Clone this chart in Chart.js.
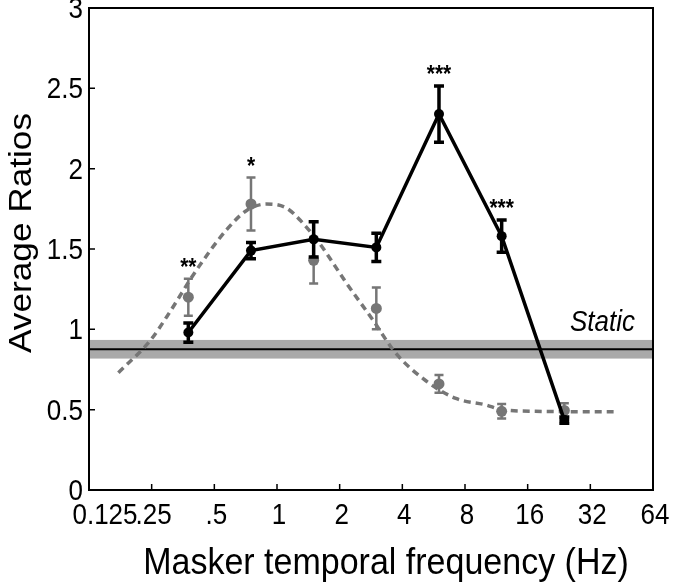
<!DOCTYPE html>
<html>
<head>
<meta charset="utf-8">
<script src="https://cdn.jsdelivr.net/npm/chart.js@4.4.1/dist/chart.umd.min.js"></script>
<style>
  html, body { margin: 0; padding: 0; background: #fff; }
  canvas { display: block; }
</style>
</head>
<body>
<canvas id="grafico" width="675" height="587"></canvas>
<script>
// frequências dos maskers (Hz)
const freqs = [0.375, 0.75, 1.5, 3, 6, 12, 24];

// série preta (linha cheia)
const blackMean = [0.98, 1.49, 1.56, 1.51, 2.34, 1.58, 0.435];
const blackErr  = [0.06, 0.05, 0.11, 0.088, 0.175, 0.10, 0.02];

// série cinza (pontos)
const grayMean = [1.20, 1.78, 1.43, 1.13, 0.66, 0.49, 0.495];
const grayErr  = [0.115, 0.165, 0.145, 0.13, 0.055, 0.045, 0.045];

// asteriscos de significância
const stars = ['**', '*', '', '', '***', '***', ''];

// curva ajustada cinza tracejada
const fitX = [0.173, 0.246, 0.296, 0.411, 0.573, 0.715, 0.89, 1.11, 1.29, 1.6, 2.15, 2.88, 3.73, 5.19, 7.23, 10.06, 12, 17.4, 41.4];
const fitY = [0.73, 0.93, 1.08, 1.37, 1.62, 1.74, 1.78, 1.755, 1.68, 1.535, 1.29, 1.06, 0.85, 0.68, 0.57, 0.53, 0.50, 0.49, 0.487];

// condição estática
const staticMean = 0.876;
const staticErr = 0.058;

// eixos
const xTicks = [0.125, 0.25, 0.5, 1, 2, 4, 8, 16, 32, 64];
const xTickLabels = ['0.125', '.25', '.5', '1', '2', '4', '8', '16', '32', '64'];
const yTicks = [0, 0.5, 1, 1.5, 2, 2.5, 3];
const yTickLabels = ['0', '0.5', '1', '1.5', '2', '2.5', '3'];

const GRAY = '#767676';
const FONT = '"Liberation Sans", Arial, Helvetica, sans-serif';

function texto(ctx, s, x, y, font, align, sx, sy, rot) {
    ctx.save();
    ctx.translate(x, y);
    if (rot) ctx.rotate(rot);
    ctx.scale(sx, sy);
    ctx.font = font;
    ctx.textAlign = align;
    ctx.textBaseline = 'alphabetic';
    ctx.fillStyle = '#000';
    ctx.fillText(s, 0, 0);
    ctx.restore();
}

function barrasErro(ctx, xs, ys, errs, xScale, yScale, cor, lw, cap) {
    ctx.save();
    ctx.strokeStyle = cor;
    ctx.lineWidth = lw;
    ctx.lineCap = 'butt';
    for (let i = 0; i < xs.length; i++) {
        const px = xScale.getPixelForValue(xs[i]);
        const top = yScale.getPixelForValue(ys[i] + errs[i]);
        const bot = yScale.getPixelForValue(ys[i] - errs[i]);
        ctx.beginPath();
        ctx.moveTo(px, top); ctx.lineTo(px, bot);
        ctx.moveTo(px - cap, top); ctx.lineTo(px + cap, top);
        ctx.moveTo(px - cap, bot); ctx.lineTo(px + cap, bot);
        ctx.stroke();
    }
    ctx.restore();
}

// plugin: faixa estática, eixos, barras de erro e textos
const pluginFigura = {
    id: 'figura',
    beforeDatasetsDraw(chart) {
        const { ctx, chartArea: a, scales: { y } } = chart;
        ctx.save();
        ctx.fillStyle = '#a9a9a9';
        const t = y.getPixelForValue(staticMean + staticErr);
        const b = y.getPixelForValue(staticMean - staticErr);
        ctx.fillRect(a.left, t, a.right - a.left, b - t);
        ctx.strokeStyle = '#000';
        ctx.lineWidth = 2;
        ctx.beginPath();
        const m = y.getPixelForValue(staticMean);
        ctx.moveTo(a.left, m); ctx.lineTo(a.right, m);
        ctx.stroke();
        ctx.restore();
    },
    beforeDatasetDraw(chart, args) {
        const { ctx, scales: { x, y } } = chart;
        if (args.index === 1) barrasErro(ctx, freqs, grayMean, grayErr, x, y, GRAY, 2.5, 4.5);
        if (args.index === 0) barrasErro(ctx, freqs, blackMean, blackErr, x, y, '#000', 3.5, 5);
    },
    afterDatasetsDraw(chart) {
        const { ctx, chartArea: a, scales: { x, y } } = chart;
        ctx.save();
        // moldura
        ctx.strokeStyle = '#000';
        ctx.lineWidth = 2;
        ctx.strokeRect(a.left, a.top, a.right - a.left, a.bottom - a.top);
        // ticks para dentro
        ctx.beginPath();
        xTicks.forEach(v => {
            const px = x.getPixelForValue(v);
            ctx.moveTo(px, a.bottom); ctx.lineTo(px, a.bottom - 6);
        });
        yTicks.forEach(v => {
            const py = y.getPixelForValue(v);
            ctx.moveTo(a.left, py); ctx.lineTo(a.left + 6, py);
        });
        ctx.lineWidth = 1.5;
        ctx.stroke();
        ctx.restore();

        // rótulos dos ticks
        xTicks.forEach((v, i) => {
            const px = x.getPixelForValue(v) + (i === 0 ? 16 : 2);
            texto(ctx, xTickLabels[i], px, a.bottom + 34, '26px ' + FONT, 'center', 1, 1.1);
        });
        yTicks.forEach((v, i) => {
            const py = y.getPixelForValue(v);
            texto(ctx, yTickLabels[i], a.left - 6, py + 10, '26px ' + FONT, 'right', 1, 1.1);
        });

        // títulos
        texto(ctx, 'Masker temporal frequency (Hz)', (a.left + a.right) / 2 + 15, a.bottom + 84, '34px ' + FONT, 'center', 1, 1.1);
        texto(ctx, 'Average Ratios', 31, (a.top + a.bottom) / 2 - 16, '32px ' + FONT, 'center', 1.1, 1, -Math.PI / 2);

        // rótulo "Static"
        texto(ctx, 'Static', a.right - 18, y.getPixelForValue(staticMean) - 18, 'italic 26px ' + FONT, 'right', 1, 1.1);

        // asteriscos
        stars.forEach((s, i) => {
            if (!s) return;
            const topo = Math.max(blackMean[i] + blackErr[i], grayMean[i] + grayErr[i]);
            const py = y.getPixelForValue(topo) - 17;
            texto(ctx, s, x.getPixelForValue(freqs[i]), py + 13, 'bold 21px ' + FONT, 'center', 1, 1.1);
        });
    }
};

const ctxGrafico = document.getElementById('grafico').getContext('2d');
window.graficoRatios = new Chart(ctxGrafico, {
    type: 'line',
    data: {
        datasets: [
            {
                label: 'preta',
                data: freqs.map((f, i) => ({ x: f, y: blackMean[i] })),
                borderColor: '#000', backgroundColor: '#000',
                borderWidth: 3.5, pointRadius: 5, pointBorderWidth: 0,
                pointBackgroundColor: '#000', tension: 0
            },
            {
                label: 'cinza',
                data: freqs.map((f, i) => ({ x: f, y: grayMean[i] })),
                showLine: false, pointRadius: 5.5, pointBorderWidth: 0,
                pointBackgroundColor: GRAY
            },
            {
                label: 'ajuste',
                data: fitX.map((f, i) => ({ x: f, y: fitY[i] })),
                borderColor: GRAY, borderWidth: 3.5, borderDash: [7, 5],
                borderCapStyle: 'butt', pointRadius: 0,
                cubicInterpolationMode: 'monotone'
            }
        ]
    },
    options: {
        responsive: false,
        animation: false,
        layout: { padding: { left: 89, top: 8, right: 22, bottom: 97 } },
        plugins: { legend: { display: false }, tooltip: { enabled: false } },
        scales: {
            x: { type: 'logarithmic', min: 0.125, max: 64, display: false },
            y: { type: 'linear', min: 0, max: 3, display: false }
        }
    },
    plugins: [pluginFigura]
});
</script>
</body>
</html>
